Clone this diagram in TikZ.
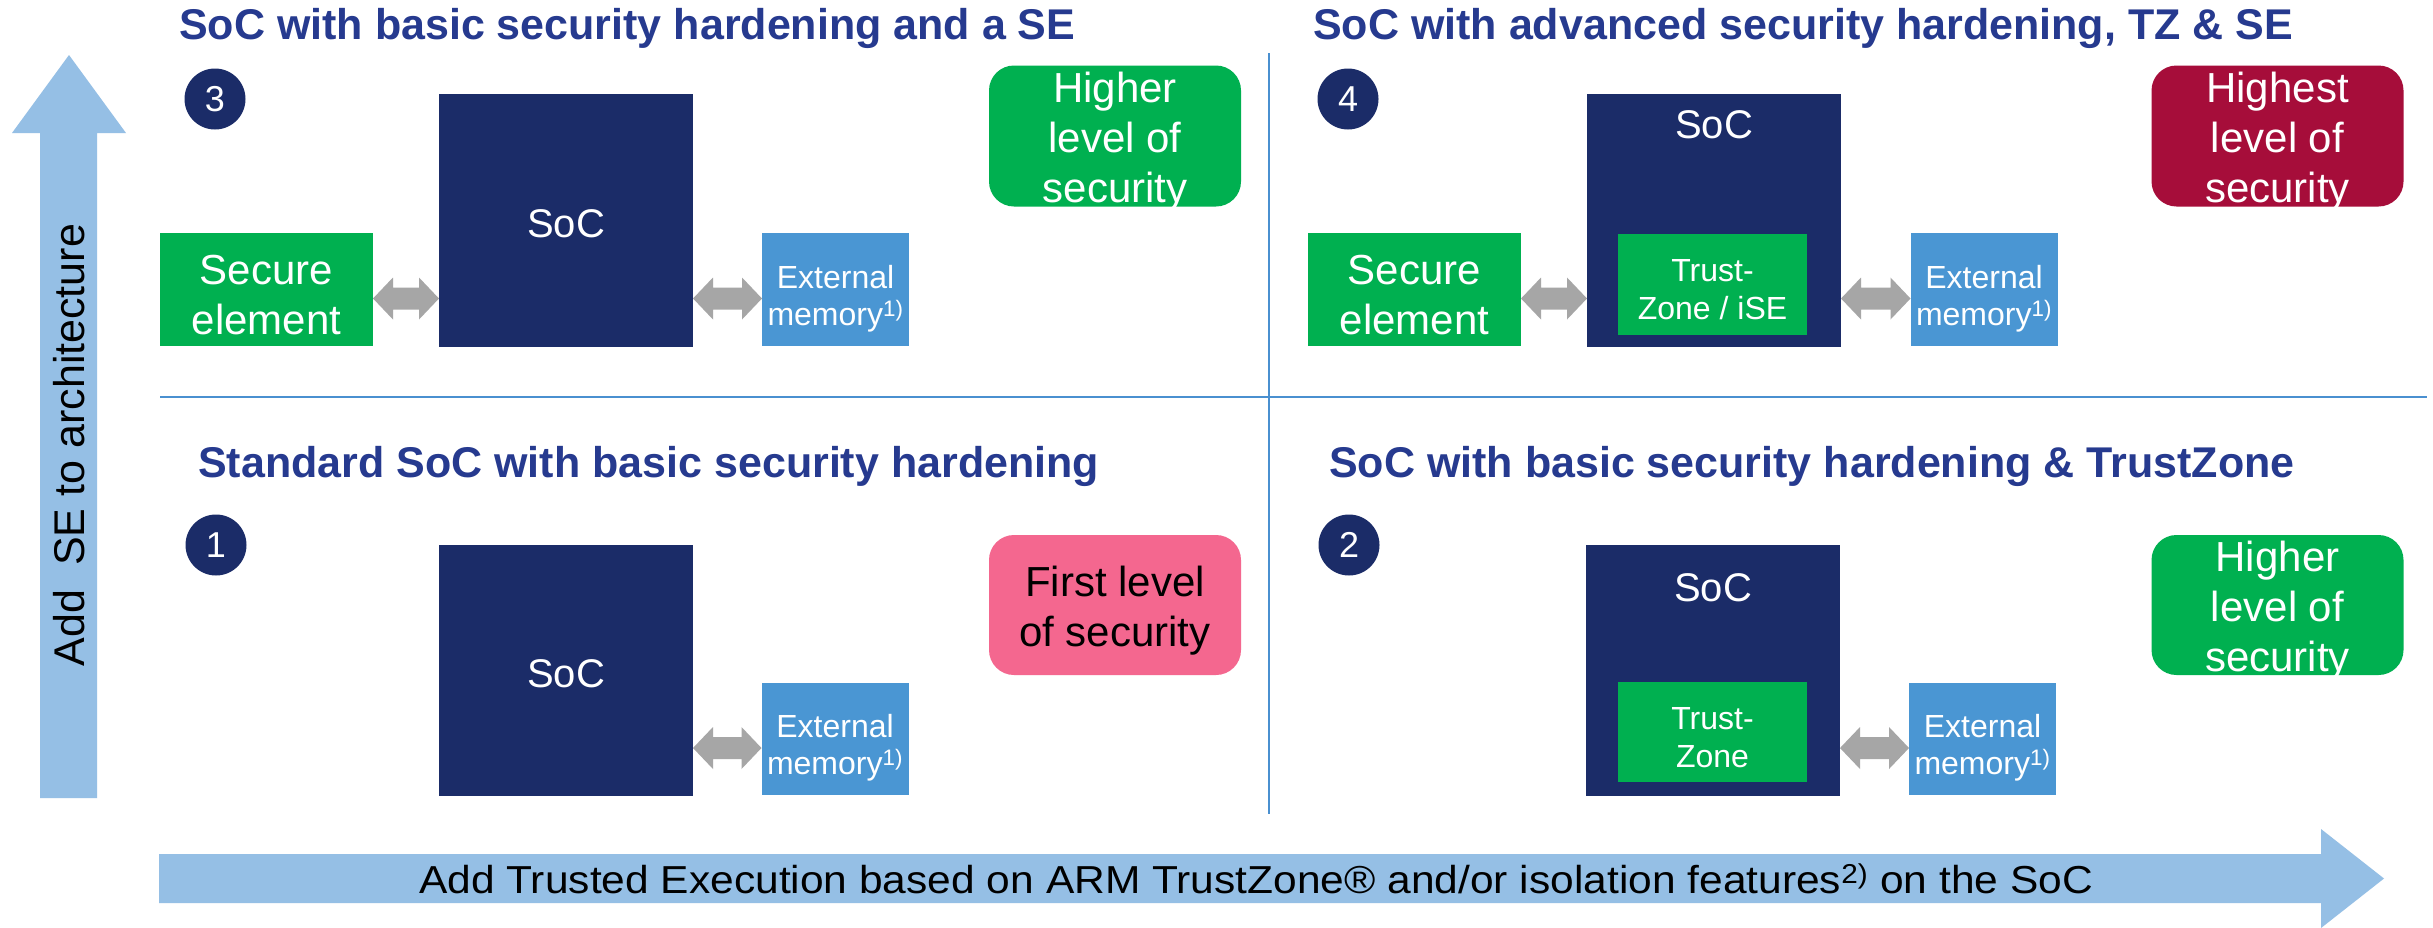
\documentclass[tikz,border=0pt]{standalone}
\usepackage{fontspec}
\setmainfont{Liberation Sans}
\newfontfamily\widesans[FakeStretch=1.09]{Liberation Sans}
\usetikzlibrary{calc}

\definecolor{navy}{RGB}{27,44,104}
\definecolor{titleblue}{RGB}{38,58,143}
\definecolor{segreen}{RGB}{0,176,80}
\definecolor{memblue}{RGB}{74,150,211}
\definecolor{levelpink}{RGB}{244,103,143}
\definecolor{levelred}{RGB}{166,13,58}
\definecolor{divider}{RGB}{74,144,208}
\definecolor{bigarrow}{RGB}{149,191,229}
\definecolor{linkgray}{RGB}{166,166,166}

\newcommand\fsz[2]{\fontsize{#1}{#2}\selectfont}

% grey double-headed link between two boxes, placed 9px below the centre of #3
\newcommand\linkarrow[3]{%
  \fill[linkgray] let \p1=(#1.east), \p2=(#2.west), \p3=(#3.center) in
    (\x1,\y3-9pt) -- (\x1+20pt,\y3+12pt) -- (\x1+20pt,\y3+2pt)
    -- (\x2-20pt,\y3+2pt) -- (\x2-20pt,\y3+12pt) -- (\x2,\y3-9pt)
    -- (\x2-20pt,\y3-30pt) -- (\x2-20pt,\y3-20pt)
    -- (\x1+20pt,\y3-20pt) -- (\x1+20pt,\y3-30pt) -- cycle;}

\begin{document}
\begin{tikzpicture}[x=1pt,y=-1pt,
  box/.style={inner sep=0pt, outer sep=0pt},
  socbox/.style={box, fill=navy, minimum width=254pt, minimum height=253pt},
  sebox/.style={box, fill=segreen, minimum width=213pt, minimum height=113pt},
  membox/.style={box, fill=memblue, minimum width=147pt, minimum height=113pt},
  tzbox/.style={box, fill=segreen, minimum width=189pt, minimum height=101pt},
  levelbox/.style={box, rounded corners=25pt, minimum width=252pt, minimum height=141pt},
  boxtext/.style={inner sep=0pt, align=center, text=white},
  soctext/.style={boxtext, font=\fsz{40}{48}},
  setext/.style={boxtext, font=\fsz{42}{50}},
  memtext/.style={boxtext, font=\fsz{32}{37}},
  tztext/.style={boxtext, font=\fsz{32}{38}},
  leveltext/.style={boxtext, font=\fsz{42}{50}},
  title/.style={anchor=base west, inner sep=0pt, text=titleblue, font=\fsz{43}{50}\bfseries},
  badge/.style={circle, fill=navy, text=white, inner sep=0pt, minimum size=61pt, font=\fsz{36}{40}},
  divline/.style={draw=divider, line width=2.5pt}
]
\useasboundingbox (0,0) rectangle (2433,927);
\fill[white] (0,0) rectangle (2433,927);

% axes: big block arrows
\fill[bigarrow] (40,798) -- (40,133) -- (12,133) -- (69,55) -- (126,133) -- (97,133) -- (97,798) -- cycle;
\node[rotate=90, inner sep=0pt, font=\fsz{43}{50}] (yaxis) at (69,445) {Add\ \ SE to architecture};
\fill[bigarrow] (159,854) -- (2321,854) -- (2321,829) -- (2384,878.5) -- (2321,928) -- (2321,903) -- (159,903) -- cycle;
\node[anchor=base, inner sep=0pt, font=\widesans\fsz{39}{44}] (xaxis) at (1256,893)
  {Add Trusted Execution based on ARM TrustZone® and/or isolation features\textsuperscript{2)} on the SoC};

% quadrant dividers
\draw[divline] (160,397) -- (2427,397);
\draw[divline] (1269,53) -- (1269,814);

% titles
\node[title] (t3) at (179,39) {SoC with basic security hardening and a SE};
\node[title] (t4) at (1313,39) {SoC with advanced security hardening, TZ \& SE};
\node[title] (t1) at (198,477) {Standard SoC with basic security hardening};
\node[title] (t2) at (1329,477) {SoC with basic security hardening \& TrustZone};

% numbered badges
\node[badge] (n3) at (215,99) {3};
\node[badge] (n4) at (1348,99) {4};
\node[badge] (n1) at (216,545) {1};
\node[badge] (n2) at (1349,545) {2};

% quadrant 3: SoC + secure element
\node[socbox] (soc3) at (566,220.5) {};
\node[soctext] (soc3-text) at ([yshift=-3pt]soc3.center) {SoC};
\node[sebox] (se3) at (266.5,289.5) {};
\node[setext] (se3-text) at ([yshift=-6pt]se3.center) {Secure\\element};
\node[membox] (mem3) at (835.5,289.5) {};
\node[memtext] (mem3-text) at ([yshift=-9pt]mem3.center) {External\\memory\textsuperscript{1)}};
\node[levelbox, fill=segreen] (lvl3) at (1115,136) {};
\node[leveltext] (lvl3-text) at ([yshift=-6pt]lvl3.center) {Higher\\level of\\security};
\linkarrow{se3}{soc3}{se3}
\linkarrow{soc3}{mem3}{mem3}

% quadrant 4: SoC with TrustZone / iSE + secure element
\node[socbox] (soc4) at (1714,220.5) {};
\node[soctext] (soc4-text) at (1714,125) {SoC};
\node[tzbox] (tz4) at (1712.5,284) {};
\node[tztext] (tz4-text) at ([yshift=-6pt]tz4.center) {Trust-\\Zone / iSE};
\node[sebox] (se4) at (1414.5,289.5) {};
\node[setext] (se4-text) at ([yshift=-6pt]se4.center) {Secure\\element};
\node[membox] (mem4) at (1984,289.5) {};
\node[memtext] (mem4-text) at ([yshift=-9pt]mem4.center) {External\\memory\textsuperscript{1)}};
\node[levelbox, fill=levelred] (lvl4) at (2277.5,136) {};
\node[leveltext] (lvl4-text) at ([yshift=-6pt]lvl4.center) {Highest\\level of\\security};
\linkarrow{se4}{soc4}{se4}
\linkarrow{soc4}{mem4}{mem4}

% quadrant 1: standard SoC
\node[socbox, minimum height=251pt] (soc1) at (566,670.5) {};
\node[soctext] (soc1-text) at ([yshift=-3pt]soc1.center) {SoC};
\node[membox, minimum height=112pt] (mem1) at (835,739) {};
\node[memtext] (mem1-text) at ([yshift=-9pt]mem1.center) {External\\memory\textsuperscript{1)}};
\node[levelbox, fill=levelpink, minimum height=140pt] (lvl1) at (1115,605) {};
\node[leveltext, text=black] (lvl1-text) at ([yshift=-6pt]lvl1.center) {First level\\of security};
\linkarrow{soc1}{mem1}{mem1}

% quadrant 2: SoC with TrustZone
\node[socbox, minimum height=251pt] (soc2) at (1713,670.5) {};
\node[soctext] (soc2-text) at (1713,588) {SoC};
\node[tzbox, minimum height=100pt] (tz2) at (1712.5,732) {};
\node[tztext] (tz2-text) at ([yshift=-6pt]tz2.center) {Trust-\\Zone};
\node[membox, minimum height=112pt] (mem2) at (1982.5,739) {};
\node[memtext] (mem2-text) at ([yshift=-9pt]mem2.center) {External\\memory\textsuperscript{1)}};
\node[levelbox, fill=segreen, minimum height=140pt] (lvl2) at (2277.5,605) {};
\node[leveltext] (lvl2-text) at ([yshift=-6pt]lvl2.center) {Higher\\level of\\security};
\linkarrow{soc2}{mem2}{mem2}
\end{tikzpicture}
\end{document}
